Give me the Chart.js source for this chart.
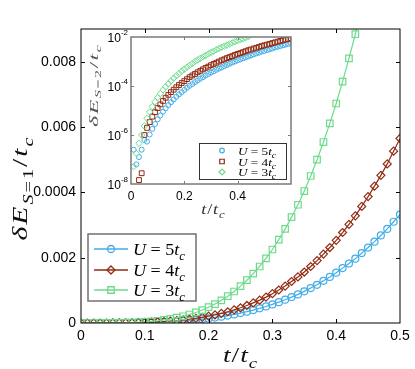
<!DOCTYPE html>
<html>
<head>
<meta charset="utf-8">
<script src="https://cdn.jsdelivr.net/npm/chart.js@4.4.0/dist/chart.umd.min.js"></script>
<style>
  html, body { margin: 0; padding: 0; background: #fff; }
  #wrap { position: relative; width: 415px; height: 369px; }
  #mainChart { position: absolute; left: 0; top: 0; }
  #insetChart { position: absolute; left: 84px; top: 30px; }
</style>
</head>
<body>
<div id="wrap">
  <canvas id="mainChart" width="415" height="369"></canvas>
  <canvas id="insetChart" width="215" height="190"></canvas>
</div>
<script>
// ---- main plot data: dE(S=1)/t_c against t/t_c ----
const tMain = [0, 0.01, 0.02, 0.03, 0.04, 0.05, 0.06, 0.07, 0.08, 0.09,
  0.10, 0.11, 0.12, 0.13, 0.14, 0.15, 0.16, 0.17, 0.18, 0.19,
  0.20, 0.21, 0.22, 0.23, 0.24, 0.25, 0.26, 0.27, 0.28, 0.29,
  0.30, 0.31, 0.32, 0.33, 0.34, 0.35, 0.36, 0.37, 0.38, 0.39,
  0.40, 0.41, 0.42, 0.43, 0.44, 0.45, 0.46, 0.47, 0.48, 0.49, 0.50];
const mainU5 = [0, 0, 0, 0.0000002, 0.0000005, 0.0000012, 0.0000022, 0.0000038, 0.0000059, 0.0000089,
  0.000013, 0.000018, 0.000024, 0.000032, 0.000041, 0.000052, 0.000065, 0.000080, 0.000098, 0.000118,
  0.000141, 0.000166, 0.000195, 0.000228, 0.000264, 0.000304, 0.000348, 0.000396, 0.000449, 0.000506,
  0.000569, 0.000638, 0.000713, 0.000793, 0.000876, 0.000969, 0.00107, 0.00117, 0.00129, 0.00141,
  0.00154, 0.00168, 0.00182, 0.00197, 0.00214, 0.00231, 0.00249, 0.00268, 0.00288, 0.00310, 0.00332];
const mainU4 = [0, 0, 0.0000001, 0.0000002, 0.0000006, 0.0000014, 0.0000027, 0.0000048, 0.0000077, 0.000012,
  0.000017, 0.000024, 0.000033, 0.000044, 0.000058, 0.000074, 0.000094, 0.000116, 0.000143, 0.000173,
  0.000209, 0.000248, 0.000294, 0.000345, 0.000402, 0.000466, 0.000537, 0.000615, 0.000700, 0.000793,
  0.000898, 0.00101, 0.00113, 0.00127, 0.00141, 0.00156, 0.00173, 0.00191, 0.00211, 0.00231,
  0.00253, 0.00277, 0.00302, 0.00328, 0.00357, 0.00387, 0.00419, 0.00452, 0.00487, 0.00526, 0.00565];
const mainU3 = [0, 0, 0.0000001, 0.0000004, 0.0000011, 0.0000025, 0.000005, 0.0000089, 0.000015, 0.000023,
  0.000035, 0.00005, 0.000069, 0.000094, 0.000124, 0.000162, 0.000207, 0.00026, 0.000323, 0.000397,
  0.000483, 0.000579, 0.000693, 0.00082, 0.000964, 0.00113, 0.00131, 0.00151, 0.00173, 0.00198,
  0.00225, 0.00255, 0.00288, 0.00324, 0.00362, 0.00404, 0.0045, 0.005, 0.00554, 0.00611,
  0.00672, 0.00739, 0.0081, 0.00884, 0.00965, 0.0105]; // runs off the top after 0.43

const mainXTicks = [0, 0.1, 0.2, 0.3, 0.4, 0.5];
const mainXTickLabels = ['0', '0.1', '0.2', '0.3', '0.4', '0.5'];
const mainYTicks = [0, 0.002, 0.004, 0.006, 0.008];
const mainYTickLabels = ['0', '0.002', '0.0004', '0.006', '0.008']; // "0.0004" as printed in the figure

// ---- inset data: log10 of dE(S=2)/t_c ----
const tInset = [0.01, 0.02, 0.03, 0.04, 0.05, 0.06, 0.07, 0.08, 0.09, 0.10,
  0.11, 0.12, 0.13, 0.14, 0.15, 0.16, 0.17, 0.18, 0.19, 0.20,
  0.21, 0.22, 0.23, 0.24, 0.25, 0.26, 0.27, 0.28, 0.29, 0.30,
  0.31, 0.32, 0.33, 0.34, 0.35, 0.36, 0.37, 0.38, 0.39, 0.40,
  0.41, 0.42, 0.43, 0.44, 0.45, 0.46, 0.47, 0.48, 0.49, 0.50,
  0.51, 0.52, 0.53, 0.54, 0.55, 0.56, 0.57, 0.58, 0.59, 0.60];
const insetU5Log = [-6.6, -7.2, -6.9, -6.6, -6.2, -6.27, -5.98, -5.75, -5.55, -5.36,
  -5.20, -5.05, -4.91, -4.78, -4.66, -4.55, -4.44, -4.34, -4.25, -4.16,
  -4.07, -3.99, -3.92, -3.84, -3.77, -3.70, -3.64, -3.57, -3.51, -3.45,
  -3.40, -3.34, -3.29, -3.24, -3.19, -3.14, -3.09, -3.04, -3.00, -2.95,
  -2.91, -2.87, -2.83, -2.79, -2.75, -2.71, -2.67, -2.64, -2.60, -2.57,
  -2.53, -2.50, -2.47, -2.43, -2.40, -2.37, -2.34, -2.31, -2.28, -2.25];
const insetU4Log = [null, null, -7.84, -7.56, -6.0, -5.71, -5.47, -5.25, -5.07, -4.90,
  -4.75, -4.61, -4.48, -4.36, -4.25, -4.15, -4.05, -3.96, -3.88, -3.80,
  -3.72, -3.64, -3.57, -3.51, -3.44, -3.38, -3.32, -3.26, -3.21, -3.15,
  -3.10, -3.05, -3.00, -2.95, -2.91, -2.86, -2.82, -2.78, -2.73, -2.69,
  -2.66, -2.62, -2.58, -2.54, -2.51, -2.47, -2.44, -2.40, -2.37, -2.34,
  -2.31, -2.28, -2.25, -2.22, -2.19, -2.16, -2.13, -2.10, -2.08, -2.05];
const insetU3Log = [-7.29, -6.75, -6.34, -6.0, -5.63, -5.32, -5.06, -4.84, -4.64, -4.47,
  -4.31, -4.16, -4.03, -3.91, -3.79, -3.68, -3.58, -3.49, -3.39, -3.31,
  -3.23, -3.15, -3.08, -3.00, -2.94, -2.87, -2.81, -2.75, -2.69, -2.63,
  -2.58, -2.52, -2.47, -2.42, -2.37, -2.33, -2.28, -2.24, -2.19, -2.15,
  -2.11, -2.07, -2.03, -1.99];

const insetXTicks = [0, 0.2, 0.4];
const insetXTickLabels = ['0', '0.2', '0.4'];
const insetYExponents = [-8, -6, -4, -2];

const uLabels = ['5', '4', '3'];

const BLUE = '#42ade6';
const RED = '#912b12';
const GREEN = '#6cdb8a';
const SERIF = '"Liberation Serif", "DejaVu Serif", serif';
const SANS = '"Liberation Sans", Arial, sans-serif';

// helpers ------------------------------------------------------------
function toPoints(xs, ys, log) {
    return ys.map((y, i) => ({ x: xs[i], y: y === null ? null : (log ? Math.pow(10, y) : y) }))
             .filter(p => p.y !== null);
}

function fontFor(p, size) {
    const s = p.sub ? Math.round(size * 0.7) : size;
    return (p.it ? 'italic ' : '') + s + 'px ' + SERIF;
}

// draws text pieces (italic / subscript) char by char;
// sx stretches along the text, gap adds room between characters
function drawRich(ctx, parts, x, y, size, center, sx, gap) {
    sx = sx || 1;
    gap = gap || 0;
    const chars = [];
    parts.forEach(p => {
        ctx.font = fontFor(p, size);
        [...p.t].forEach(ch => chars.push({ ch, p, w: ctx.measureText(ch).width }));
    });
    const step = gap / sx;
    const total = chars.reduce((a, c) => a + c.w, 0) + step * (chars.length - 1);
    ctx.save();
    ctx.translate(x, y);
    ctx.scale(sx, 1);
    let cx = center ? -total / 2 : 0;
    ctx.textAlign = 'left';
    ctx.textBaseline = 'alphabetic';
    chars.forEach(c => {
        ctx.font = fontFor(c.p, size);
        ctx.fillText(c.ch, cx, c.p.sub ? size * 0.28 : 0);
        cx += c.w + step;
    });
    ctx.restore();
}

function drawMarker(ctx, style, x, y, r) {
    ctx.beginPath();
    if (style === 'circle') {
        ctx.arc(x, y, r, 0, Math.PI * 2);
    } else if (style === 'rect') {
        const s = r * Math.SQRT1_2;
        ctx.rect(x - s, y - s, 2 * s, 2 * s);
    } else {
        ctx.moveTo(x, y - r); ctx.lineTo(x + r, y); ctx.lineTo(x, y + r); ctx.lineTo(x - r, y); ctx.closePath();
    }
    ctx.stroke();
}

// box round the plot area with inward ticks on all four sides
function drawFrame(chart, color, width, len, xVals, yVals) {
    const { ctx, chartArea: a, scales: { x, y } } = chart;
    ctx.save();
    ctx.strokeStyle = color;
    ctx.lineWidth = width;
    ctx.strokeRect(a.left, a.top, a.right - a.left, a.bottom - a.top);
    ctx.lineWidth = 1;
    ctx.beginPath();
    xVals.forEach(v => {
        const px = Math.round(x.getPixelForValue(v)) + 0.5;
        if (px <= a.left + 1 || px >= a.right - 1) return;
        ctx.moveTo(px, a.bottom); ctx.lineTo(px, a.bottom - len);
        ctx.moveTo(px, a.top); ctx.lineTo(px, a.top + len);
    });
    yVals.forEach(v => {
        const py = Math.round(y.getPixelForValue(v)) + 0.5;
        if (py <= a.top + 1 || py >= a.bottom - 1) return;
        ctx.moveTo(a.left, py); ctx.lineTo(a.left + len, py);
        ctx.moveTo(a.right, py); ctx.lineTo(a.right - len, py);
    });
    ctx.stroke();
    ctx.restore();
}

const seriesStyle = [
    { color: BLUE, main: 'circle', inset: 'circle' },
    { color: RED, main: 'rectRot', inset: 'rect' },
    { color: GREEN, main: 'rect', inset: 'rectRot' }
];

function uParts(u) {
    return [{ t: 'U', it: true }, { t: ' = ' + u }, { t: 't', it: true }, { t: 'c', it: true, sub: true }];
}

const tOverTc = [{ t: 't', it: true }, { t: '/' }, { t: 't', it: true }, { t: 'c', it: true, sub: true }];

document.addEventListener('DOMContentLoaded', () => {

    // --- main chart decorations: frame, titles, legend ---
    const mainDecor = {
        id: 'mainDecor',
        afterDraw(chart) {
            const ctx = chart.ctx;
            drawFrame(chart, '#000', 1, 4, mainXTicks, mainYTicks);

            ctx.save();
            ctx.fillStyle = '#111';
            // x title
            drawRich(ctx, tOverTc, 240, 362, 22, true, 1.25, 1);
            // y title, rotated
            ctx.translate(27, 189);
            ctx.rotate(-Math.PI / 2);
            drawRich(ctx, [{ t: 'δE', it: true }, { t: 'S', it: true, sub: true }, { t: '=1', sub: true },
                           { t: '/' }, { t: 't', it: true }, { t: 'c', it: true, sub: true }], 0, 0, 22, true, 1.35, 2);
            ctx.restore();

            // legend
            ctx.save();
            ctx.fillStyle = '#fff';
            ctx.fillRect(88, 234, 108, 67);
            ctx.strokeStyle = '#707070';
            ctx.lineWidth = 1.5;
            ctx.strokeRect(88, 234, 108, 67);
            const rows = [249, 270, 290];
            rows.forEach((ry, i) => {
                const st = seriesStyle[i];
                ctx.strokeStyle = st.color;
                ctx.lineWidth = 1.3;
                ctx.beginPath(); ctx.moveTo(94, ry); ctx.lineTo(128, ry); ctx.stroke();
                drawMarker(ctx, st.main, 111, ry, st.main === 'circle' ? 3.5 : (st.main === 'rect' ? 4.6 : 4));
                ctx.fillStyle = '#000';
                drawRich(ctx, uParts(uLabels[i]), 133, ry + 6, 17, false, 1.06);
            });
            ctx.restore();
        }
    };

    const mainRadius = { circle: 3.5, rectRot: 4, rect: 4.6 };
    const mainData = [mainU5, mainU4, mainU3];

    new Chart(document.getElementById('mainChart'), {
        type: 'line',
        data: {
            datasets: mainData.map((vals, i) => ({
                data: toPoints(tMain, vals, false),
                borderColor: seriesStyle[i].color,
                borderWidth: 1.2,
                pointStyle: seriesStyle[i].main,
                pointRadius: mainRadius[seriesStyle[i].main],
                pointBorderWidth: 1.2,
                pointBorderColor: seriesStyle[i].color,
                pointBackgroundColor: 'rgba(0,0,0,0)',
                tension: 0,
                order: 2 - i // U = 3t_c drawn last, on top
            }))
        },
        options: {
            responsive: false,
            animation: false,
            layout: { padding: { top: 29, right: 15, left: 0, bottom: 0 } },
            plugins: { legend: { display: false }, tooltip: { enabled: false } },
            scales: {
                x: {
                    type: 'linear', min: 0, max: 0.5,
                    afterBuildTicks: s => { s.ticks = mainXTicks.map(v => ({ value: v })); },
                    afterFit: s => { s.height = 46; },
                    grid: { display: false, drawTicks: false },
                    border: { display: false },
                    ticks: {
                        padding: 5, color: '#000', maxRotation: 0, autoSkip: false,
                        font: { family: SANS, size: 14 },
                        callback: (v, i) => mainXTickLabels[i]
                    }
                },
                y: {
                    type: 'linear', min: 0, max: 0.009,
                    afterBuildTicks: s => { s.ticks = mainYTicks.map(v => ({ value: v })); },
                    afterFit: s => { s.width = 81; },
                    grid: { display: false, drawTicks: false },
                    border: { display: false },
                    ticks: {
                        padding: 5, color: '#000', autoSkip: false,
                        font: { family: SANS, size: 14 },
                        callback: (v, i) => mainYTickLabels[i]
                    }
                }
            }
        },
        plugins: [mainDecor]
    });

    // --- inset ---
    const insetDecor = {
        id: 'insetDecor',
        afterDraw(chart) {
            const ctx = chart.ctx;
            const yScale = chart.scales.y;
            drawFrame(chart, '#7a7a7a', 1.5, 3, insetXTicks, insetYExponents.map(e => Math.pow(10, e)));

            ctx.save();
            ctx.fillStyle = '#000';
            // y tick labels 10^n
            insetYExponents.forEach(e => {
                const py = yScale.getPixelForValue(Math.pow(10, e));
                ctx.font = '8px ' + SANS;
                const exp = String(e);
                const ew = ctx.measureText(exp).width;
                ctx.textAlign = 'left';
                ctx.textBaseline = 'alphabetic';
                ctx.fillText(exp, 44 - ew, py - 2);
                ctx.font = '12px ' + SANS;
                ctx.textAlign = 'right';
                ctx.fillText('10', 44 - ew, py + 5);
            });
            // x title
            ctx.fillStyle = '#333';
            drawRich(ctx, tOverTc, 129, 184, 14, true, 1.3, 0.8);
            ctx.restore();

            // y title, rotated
            ctx.save();
            ctx.fillStyle = '#555';
            ctx.translate(14, 56);
            ctx.rotate(-Math.PI / 2);
            drawRich(ctx, [{ t: 'δE', it: true }, { t: 'S', it: true, sub: true }, { t: '=2', sub: true },
                           { t: '/' }, { t: 't', it: true }, { t: 'c', it: true, sub: true }], 0, 0, 12, true, 2.0, 1.5);
            ctx.restore();

            // legend
            ctx.save();
            ctx.fillStyle = '#fff';
            ctx.fillRect(115, 113, 87, 36);
            ctx.strokeStyle = '#333';
            ctx.lineWidth = 1;
            ctx.strokeRect(115.5, 113.5, 87, 36);
            const rows = [120.5, 131.5, 142];
            rows.forEach((ry, i) => {
                const st = seriesStyle[i];
                ctx.strokeStyle = st.color;
                ctx.lineWidth = 1.2;
                drawMarker(ctx, st.inset, 138, ry, st.inset === 'circle' ? 2.3 : (st.inset === 'rect' ? 3.2 : 3));
                ctx.fillStyle = '#000';
                drawRich(ctx, uParts(uLabels[i]), 154, ry + 4, 11, false, 1.2);
            });
            ctx.restore();
        }
    };

    const insetRadius = { circle: 2.5, rect: 3.4, rectRot: 3.2 };
    const insetData = [insetU5Log, insetU4Log, insetU3Log];

    new Chart(document.getElementById('insetChart'), {
        type: 'line',
        data: {
            datasets: insetData.map((vals, i) => ({
                data: toPoints(tInset, vals, true),
                showLine: false,
                pointStyle: seriesStyle[i].inset,
                pointRadius: insetRadius[seriesStyle[i].inset],
                pointBorderWidth: 1,
                pointBorderColor: seriesStyle[i].color,
                pointBackgroundColor: 'rgba(0,0,0,0)',
                order: 2 - i
            }))
        },
        options: {
            responsive: false,
            animation: false,
            layout: { padding: { top: 7, right: 8, left: 0, bottom: 0 } },
            plugins: { legend: { display: false }, tooltip: { enabled: false } },
            scales: {
                x: {
                    type: 'linear', min: 0, max: 0.6,
                    afterBuildTicks: s => { s.ticks = insetXTicks.map(v => ({ value: v })); },
                    afterFit: s => { s.height = 36; },
                    grid: { display: false, drawTicks: false },
                    border: { display: false },
                    ticks: {
                        padding: 5, color: '#000', maxRotation: 0, autoSkip: false,
                        font: { family: SANS, size: 12 },
                        callback: (v, i) => insetXTickLabels[i]
                    }
                },
                y: {
                    type: 'logarithmic', min: 1e-8, max: 1e-2,
                    afterBuildTicks: s => { s.ticks = insetYExponents.map(e => ({ value: Math.pow(10, e) })); },
                    afterFit: s => { s.width = 47; },
                    grid: { display: false, drawTicks: false },
                    border: { display: false },
                    ticks: { display: false }
                }
            }
        },
        plugins: [insetDecor]
    });
});
</script>
</body>
</html>
